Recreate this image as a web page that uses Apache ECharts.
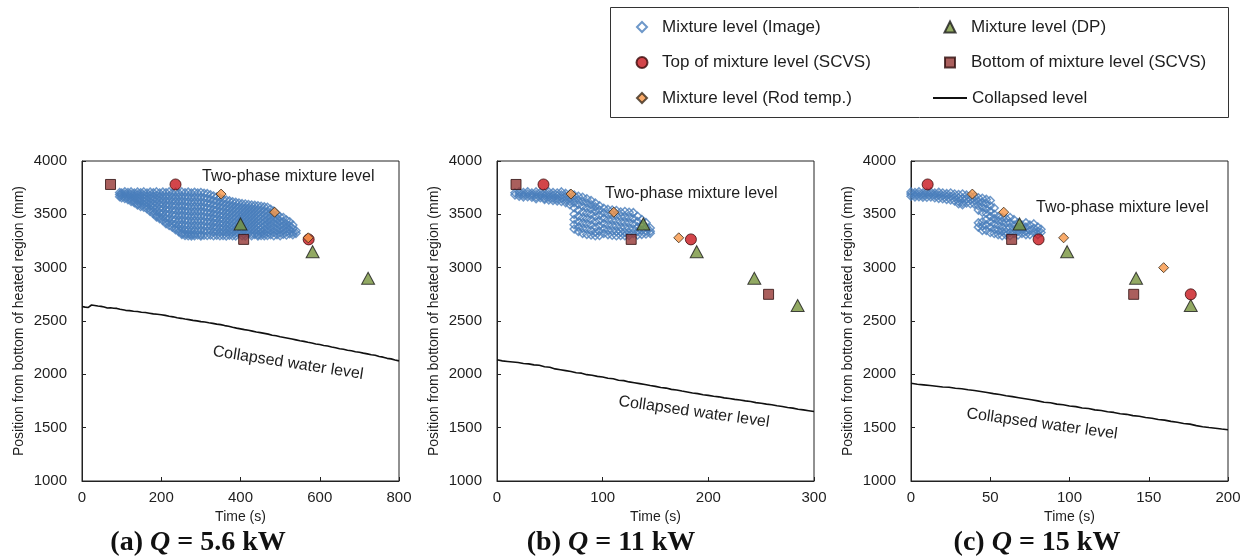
<!DOCTYPE html>
<html>
<head>
<meta charset="utf-8">
<script src="https://cdn.jsdelivr.net/npm/echarts/dist/echarts.min.js"></script>
<style>
html, body { margin: 0; padding: 0; background: #fff; }
#chart { width: 1247px; height: 559px; }
</style>
</head>
<body>
<div id="chart"></div>
<script>
// ---- Collapsed water level, [time (s), level (mm)] ----
const collapsedA = [
  [0,2636],[4,2648],[8,2630],[12,2644],[16,2627],[20,2641],[24,2650],[28,2633],[32,2645],[36,2628],
  [40,2640],[44,2624],[48,2637],[52,2621],[56,2632],[60,2614],[64,2622],[68,2611],[72,2624],[76,2610],
  [80,2619],[84,2612],[88,2618],[92,2606],[96,2610],[100,2602],[110,2600],[120,2597],[130,2591],[140,2589],
  [150,2582],[160,2579],[170,2573],[180,2567],[190,2563],[200,2558],[210,2553],[220,2545],[230,2539],[240,2530],
  [250,2525],[260,2518],[270,2513],[280,2506],[290,2501],[300,2494],[310,2490],[320,2483],[330,2478],[340,2471],
  [350,2466],[360,2457],[370,2451],[380,2441],[390,2433],[400,2426],[410,2419],[420,2413],[430,2405],[440,2397],
  [450,2391],[460,2384],[470,2377],[480,2367],[490,2361],[500,2352],[510,2346],[520,2339],[530,2331],[540,2323],
  [550,2315],[560,2309],[570,2300],[580,2293],[590,2285],[600,2279],[610,2271],[620,2265],[630,2256],[640,2249],
  [650,2240],[660,2235],[670,2226],[680,2221],[690,2212],[700,2207],[710,2199],[720,2192],[730,2183],[740,2179],
  [750,2167],[760,2161],[770,2150],[780,2145],[790,2134],[800,2126]
];
const collapsedB = [
  [0,2136],[5,2126],[10,2121],[15,2116],[20,2111],[25,2102],[30,2098],[35,2089],[40,2085],[45,2071],
  [50,2067],[55,2051],[60,2043],[65,2035],[70,2027],[75,2015],[80,2011],[85,1997],[90,1991],[95,1981],
  [100,1975],[105,1963],[110,1959],[115,1945],[120,1941],[125,1929],[130,1921],[135,1913],[140,1905],[145,1895],
  [150,1887],[155,1877],[160,1871],[165,1859],[170,1853],[175,1843],[180,1835],[185,1825],[190,1819],[195,1809],
  [200,1803],[205,1794],[210,1789],[215,1779],[220,1773],[225,1765],[230,1759],[235,1751],[240,1745],[245,1735],
  [250,1729],[255,1721],[260,1715],[265,1705],[270,1699],[275,1689],[280,1683],[285,1673],[290,1667],[295,1659],
  [300,1651]
];
const collapsedC = [
  [0,1916],[4,1907],[8,1901],[12,1895],[16,1889],[20,1881],[24,1879],[28,1869],[32,1865],[36,1855],
  [40,1849],[44,1839],[48,1829],[52,1819],[56,1811],[60,1799],[64,1791],[68,1781],[72,1771],[76,1761],
  [80,1751],[84,1739],[88,1733],[92,1721],[96,1715],[100,1703],[104,1697],[108,1685],[112,1679],[116,1667],
  [120,1661],[124,1649],[128,1643],[132,1631],[136,1625],[140,1613],[144,1607],[148,1595],[152,1589],[156,1577],
  [160,1571],[164,1559],[168,1551],[172,1539],[176,1533],[180,1519],[184,1509],[188,1501],[192,1495],[196,1487],
  [200,1480]
];

// ---- Mixture level from images: each row is [time, level, level, ...] ----
const imageA = [
  [95,3705,3685,3665],[100,3700,3678,3656],[108,3712,3690,3668,3648],[116,3704,3682,3660,3638],
  [124,3710,3688,3664,3640,3622],[132,3700,3676,3652,3628,3608],[140,3708,3684,3658,3630,3600,3588],
  [148,3702,3678,3650,3622,3594,3574],[156,3710,3682,3652,3620,3590,3566],[164,3700,3672,3640,3608,3578,3552],
  [172,3708,3678,3646,3612,3578,3546,3526],[180,3702,3670,3636,3600,3564,3530,3506],
  [188,3710,3676,3640,3604,3566,3528,3490,3476],[196,3700,3666,3630,3592,3552,3512,3476,3458],
  [204,3708,3672,3634,3596,3556,3516,3476,3442],[212,3702,3664,3624,3584,3544,3504,3464,3428,3412],
  [220,3710,3672,3632,3590,3548,3506,3464,3424,3396],[228,3700,3660,3620,3578,3536,3494,3452,3412,3380],
  [236,3706,3666,3626,3584,3540,3496,3452,3410,3372,3356],[244,3700,3660,3618,3574,3530,3486,3442,3400,3362,3338],
  [252,3710,3668,3626,3582,3538,3494,3450,3406,3364,3326,3312],[260,3702,3660,3616,3572,3528,3484,3440,3396,3354,3318,3302],
  [268,3708,3664,3620,3576,3532,3488,3444,3400,3358,3320,3300],[276,3700,3656,3612,3568,3524,3480,3436,3392,3350,3312,3298],
  [284,3706,3662,3618,3574,3530,3486,3442,3398,3354,3316,3300],[292,3700,3656,3612,3568,3524,3480,3436,3392,3348,3306],
  [300,3704,3660,3616,3572,3528,3484,3440,3396,3352,3310,3298],[308,3698,3654,3610,3566,3522,3478,3434,3390,3346,3304],
  [316,3694,3650,3606,3562,3518,3474,3430,3386,3344,3302],[324,3684,3642,3600,3558,3516,3474,3432,3390,3348,3306],
  [332,3672,3630,3588,3546,3504,3462,3420,3378,3336,3300],[340,3662,3622,3582,3542,3502,3462,3422,3382,3342,3304],
  [348,3652,3612,3572,3532,3492,3452,3412,3372,3332,3300],[356,3642,3604,3566,3528,3490,3452,3414,3376,3338,3302],
  [364,3634,3596,3558,3520,3482,3444,3406,3368,3330,3298],[372,3626,3590,3554,3518,3482,3446,3410,3374,3338,3304],
  [380,3618,3582,3546,3510,3474,3438,3402,3366,3330,3300],[388,3612,3576,3540,3504,3468,3432,3396,3360,3326,3298],
  [396,3606,3570,3534,3498,3462,3426,3390,3354,3320],[404,3600,3566,3532,3498,3464,3430,3396,3362,3328,3300],
  [412,3596,3562,3528,3494,3460,3426,3392,3358,3324,3298],[420,3592,3558,3524,3490,3456,3422,3388,3354,3320],
  [428,3588,3554,3520,3486,3452,3418,3384,3350,3318,3300],[436,3584,3550,3516,3482,3448,3414,3380,3346,3312],
  [444,3580,3546,3512,3478,3444,3410,3376,3342,3310,3298],[452,3576,3540,3504,3468,3432,3396,3360,3326,3302],
  [460,3570,3534,3498,3462,3426,3390,3354,3320,3300],[468,3566,3526,3486,3446,3406,3366,3330,3302],
  [476,3548,3508,3468,3428,3388,3348,3310],[484,3530,3490,3450,3410,3370,3330,3300],
  [492,3500,3462,3424,3386,3348,3310],[500,3478,3440,3402,3364,3326,3300],
  [508,3470,3430,3390,3350,3314],[516,3446,3408,3370,3334,3306],
  [524,3430,3392,3354,3318],[532,3400,3364,3330,3308],[540,3346,3322]
];
const imageB = [
  [17,3702,3682],[21,3710,3690,3670],[25,3704,3684,3664],[29,3712,3690,3666],[33,3700,3680,3660],
  [37,3710,3686,3662,3646],[41,3704,3680,3656],[45,3700,3676,3652,3640],[49,3710,3686,3660,3636],
  [53,3704,3680,3652,3630],[57,3700,3674,3646,3626],[61,3710,3682,3650,3620],[65,3696,3666,3636,3610],
  [69,3690,3656,3620,3590],[73,3680,3646,3610,3562,3500,3452,3402,3362],
  [77,3670,3632,3592,3540,3482,3430,3380,3340],[81,3660,3620,3576,3522,3470,3420,3370,3322],
  [85,3646,3606,3562,3512,3462,3412,3362,3312],[89,3630,3590,3550,3500,3450,3400,3350,3306],
  [93,3606,3570,3530,3482,3432,3382,3332,3300],[97,3580,3540,3492,3442,3392,3342,3302],
  [101,3556,3512,3462,3412,3362,3320],[105,3546,3500,3452,3402,3352,3310],
  [109,3540,3496,3446,3396,3346,3304],[113,3536,3490,3440,3390,3340,3300],
  [117,3522,3480,3430,3380,3336,3302],[121,3526,3476,3426,3376,3330,3300],
  [125,3520,3470,3420,3370,3326,3302],[129,3516,3462,3412,3362,3320],
  [133,3482,3432,3382,3340,3306],[137,3452,3402,3352,3312],[141,3422,3382,3342,3316],[145,3372,3342,3322]
];
const imageC = [
  [0,3710,3690,3670],[2.5,3704,3684,3664],[5,3712,3690,3666],[7.5,3700,3680,3660],[10,3706,3684,3660],
  [12.5,3710,3690,3664],[15,3700,3680,3656],[17.5,3706,3680,3650],[20,3700,3674,3646],[22.5,3694,3670,3640],
  [25,3700,3670,3636],[27.5,3690,3660,3626],[30,3686,3654,3620,3600],[32.5,3690,3650,3610,3590],
  [35,3680,3644,3606],[37.5,3670,3636,3600],[40,3666,3630,3596],[42.5,3656,3620,3580,3540,3420,3380],
  [45,3650,3610,3566,3520,3430,3390,3350],[47.5,3640,3600,3550,3510,3450,3400,3350],
  [50,3630,3580,3530,3480,3430,3380,3330],[52.5,3560,3500,3460,3410,3360,3320],
  [55,3480,3440,3400,3350,3310],[57.5,3470,3430,3380,3340,3300],[60,3460,3420,3370,3330,3306],
  [62.5,3470,3420,3376,3330,3300],[65,3450,3400,3360,3320],[67.5,3420,3380,3340,3306],
  [70,3400,3360,3320],[72.5,3420,3380,3340,3310],[75,3400,3350,3310],[77.5,3410,3370,3330],
  [80,3380,3340,3310],[82,3360,3330]
];

// ---- Point measurements, [time (s), level (mm)] ----
const dpA = [[400,3410],[582,3150],[722,2900]];
const scvsTopA = [[236,3780],[572,3265]];
const scvsBottomA = [[72,3780],[408,3265]];
const rodA = [[351,3690],[486,3520],[571,3280]];

const dpB = [[138.5,3410],[189,3150],[243.5,2900],[284.5,2645]];
const scvsTopB = [[44,3780],[183.5,3265]];
const scvsBottomB = [[18,3780],[127,3265],[257,2750]];
const rodB = [[70,3690],[110.5,3520],[172,3280]];

const dpC = [[68.5,3410],[98.5,3150],[142,2900],[176.5,2645]];
const scvsTopC = [[10.5,3780],[80.5,3265],[176.5,2750]];
const scvsBottomC = [[63.5,3265],[140.5,2750]];
const rodC = [[38.7,3690],[58.5,3520],[96.3,3280],[159.4,3000]];

// ---- Axis ranges and labels ----
const xMaxes = [800, 300, 200];
const xSteps = [200, 100, 50];
const captions = [['(a) ', '5.6 kW'], ['(b) ', '11 kW'], ['(c) ', '15 kW']];
const seriesNames = [
  'Mixture level (Image)', 'Mixture level (DP)',
  'Top of mixture level (SCVS)', 'Bottom of mixture level (SCVS)',
  'Mixture level (Rod temp.)', 'Collapsed level'
];

const panels = [
  { collapsed: collapsedA, image: imageA, dp: dpA, top: scvsTopA, bottom: scvsBottomA, rod: rodA },
  { collapsed: collapsedB, image: imageB, dp: dpB, top: scvsTopB, bottom: scvsBottomB, rod: rodB },
  { collapsed: collapsedC, image: imageC, dp: dpC, top: scvsTopC, bottom: scvsBottomC, rod: rodC }
];

const gridLefts = [82, 497, 911];
const FONT = '"Liberation Sans", Arial, sans-serif';
const TEXT = '#1e1e1e';

function expandColumns(cols) {
  const out = [];
  cols.forEach(c => { for (let k = 1; k < c.length; k++) out.push([c[0], c[k]]); });
  return out;
}

const grids = [], xAxes = [], yAxes = [], series = [];
panels.forEach((p, i) => {
  grids.push({ left: gridLefts[i], top: 161, width: 317, height: 320, show: true,
    borderColor: '#222', borderWidth: 1, backgroundColor: 'transparent' });
  xAxes.push({
    type: 'value', gridIndex: i, min: 0, max: xMaxes[i], interval: xSteps[i],
    name: 'Time (s)', nameLocation: 'middle', nameGap: 27,
    nameTextStyle: { fontFamily: FONT, fontSize: 14, color: TEXT },
    axisLine: { onZero: false, lineStyle: { color: '#222', width: 1 } },
    axisTick: { inside: true, length: 4, lineStyle: { color: '#222' } },
    axisLabel: { fontFamily: FONT, fontSize: 15, color: TEXT, margin: 9, formatter: v => String(v) },
    splitLine: { show: false }
  });
  yAxes.push({
    type: 'value', gridIndex: i, min: 1000, max: 4000, interval: 500,
    name: 'Position from bottom of heated region (mm)', nameLocation: 'middle', nameGap: 56,
    nameTextStyle: { fontFamily: FONT, fontSize: 14, color: TEXT },
    axisLine: { onZero: false, lineStyle: { color: '#222', width: 1 } },
    axisTick: { inside: true, length: 4, lineStyle: { color: '#222' } },
    axisLabel: { fontFamily: FONT, fontSize: 15, color: TEXT, margin: 15, formatter: v => String(v) },
    splitLine: { show: false }
  });
  const ax = { xAxisIndex: i, yAxisIndex: i, silent: true };
  series.push(
    Object.assign({ type: 'line', name: seriesNames[5], data: p.collapsed, symbol: 'none',
      itemStyle: { color: '#111' }, lineStyle: { color: '#111', width: 1.6 } }, ax),
    Object.assign({ type: 'scatter', name: seriesNames[0], data: expandColumns(p.image),
      symbol: 'diamond', symbolSize: 8,
      itemStyle: { color: 'rgba(255,255,255,0)', borderColor: '#4a7ebb', borderWidth: 1.5 } }, ax),
    Object.assign({ type: 'scatter', name: seriesNames[1], data: p.dp, symbol: 'triangle',
      symbolSize: [13, 12], itemStyle: { color: '#77933c', borderColor: '#1a1a1a', borderWidth: 1 } }, ax),
    Object.assign({ type: 'scatter', name: seriesNames[2], data: p.top, symbol: 'circle',
      symbolSize: 11, itemStyle: { color: '#c8161d', borderColor: '#3a0a0a', borderWidth: 1 } }, ax),
    Object.assign({ type: 'scatter', name: seriesNames[3], data: p.bottom, symbol: 'rect',
      symbolSize: 10, itemStyle: { color: '#953735', borderColor: '#2e0e0e', borderWidth: 1 } }, ax),
    Object.assign({ type: 'scatter', name: seriesNames[4], data: p.rod, symbol: 'diamond',
      symbolSize: 10, itemStyle: { color: '#f79646', borderColor: '#3a2a1a', borderWidth: 1 } }, ax)
  );
});

// Legend: two columns, three rows, inside a framed box
const legendSlots = [
  { name: seriesNames[0], col: 0, row: 0, size: 10 },
  { name: seriesNames[2], col: 0, row: 1, size: 11 },
  { name: seriesNames[4], col: 0, row: 2, size: 10 },
  { name: seriesNames[1], col: 1, row: 0, size: 11 },
  { name: seriesNames[3], col: 1, row: 1, size: 10 },
  { name: seriesNames[5], col: 1, row: 2, size: 0 }
];
const iconCenters = [641, 949];
const textStarts = [661, 970];
const rowCenters = [27, 62.5, 98];
const legends = legendSlots.map(s => {
  const isLine = s.size === 0;
  const w = isLine ? 34 : s.size;
  const h = isLine ? 2 : s.size;
  const left = isLine ? 933 : iconCenters[s.col] - w / 2;
  const pad = Math.max(0, textStarts[s.col] - (left + w + 5));
  return {
    data: isLine ? [{ name: s.name, icon: 'rect' }] : [s.name],
    left: left, top: rowCenters[s.row] - 10, padding: 0,
    itemWidth: w, itemHeight: h, itemGap: 0, selectedMode: false,
    textStyle: { fontFamily: FONT, fontSize: 17, color: TEXT, lineHeight: 20, padding: [0, 0, 0, pad] }
  };
});

const captionX = [198, 611, 1037];
const collapsedLabels = [[288, 363, -8.8], [694, 412, -8.0], [1042, 424, -7.8]];
const mixtureLabels = [[202, 177], [605, 194], [1036, 208]];

const graphics = [
  { type: 'rect', shape: { x: 610.5, y: 7.5, width: 618, height: 110 },
    style: { fill: 'none', stroke: '#333', lineWidth: 1 }, silent: true }
];
panels.forEach((p, i) => {
  graphics.push({
    type: 'text', x: mixtureLabels[i][0], y: mixtureLabels[i][1], silent: true,
    style: { text: 'Two-phase mixture level', font: '16px ' + FONT, fill: TEXT,
      textAlign: 'left', textVerticalAlign: 'middle' }
  });
  graphics.push({
    type: 'text', x: collapsedLabels[i][0], y: collapsedLabels[i][1],
    rotation: collapsedLabels[i][2] * Math.PI / 180, silent: true,
    style: { text: 'Collapsed water level', font: '16px ' + FONT, fill: TEXT,
      textAlign: 'center', textVerticalAlign: 'middle' }
  });
  graphics.push({
    type: 'text', x: captionX[i], y: 543, silent: true,
    style: {
      text: '{b|' + captions[i][0] + '}{q|Q}{b| = ' + captions[i][1] + '}',
      textAlign: 'center', textVerticalAlign: 'middle',
      rich: {
        b: { fontFamily: '"Liberation Serif", "Times New Roman", serif', fontWeight: 'bold', fontSize: 28, fill: '#111', color: '#111' },
        q: { fontFamily: '"Liberation Serif", "Times New Roman", serif', fontWeight: 'bold', fontStyle: 'italic', fontSize: 28, fill: '#111', color: '#111' }
      }
    }
  });
});

const chart = echarts.init(document.getElementById('chart'), null, { renderer: 'canvas' });
chart.setOption({
  animation: false,
  backgroundColor: '#fff',
  grid: grids,
  xAxis: xAxes,
  yAxis: yAxes,
  legend: legends,
  series: series,
  graphic: graphics
});
</script>
</body>
</html>
